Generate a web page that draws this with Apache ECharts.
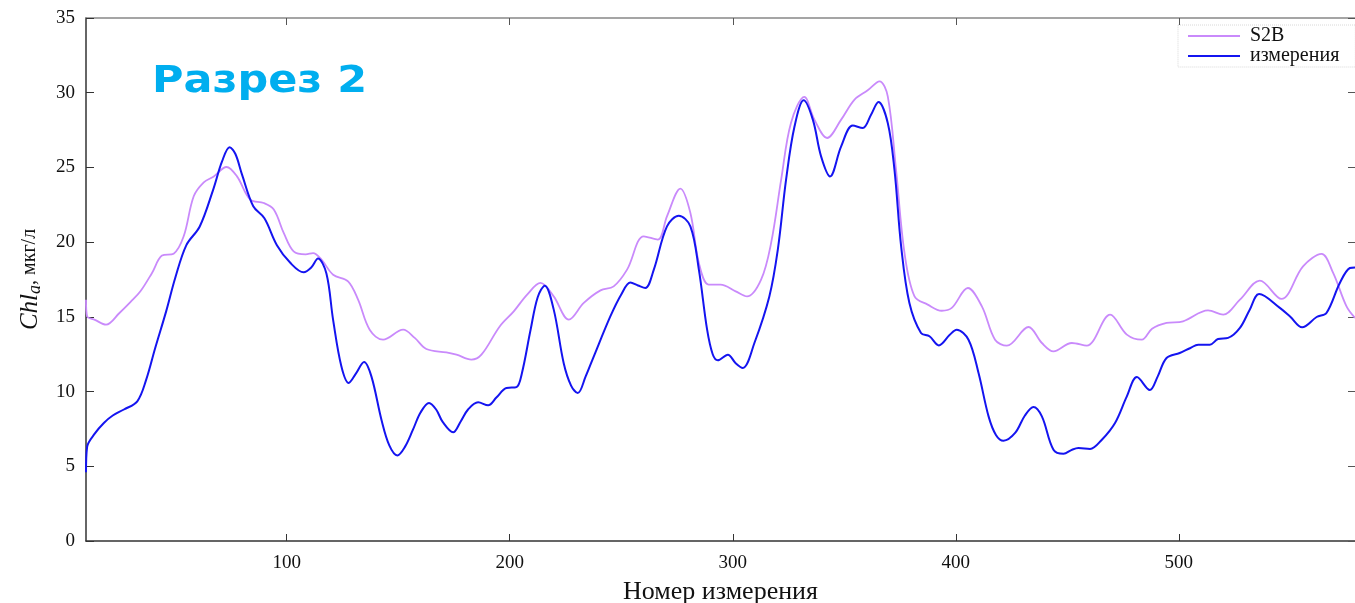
<!DOCTYPE html>
<html>
<head>
<meta charset="utf-8">
<script src="https://cdn.jsdelivr.net/npm/echarts@6/dist/echarts.min.js"></script>
<style>
html,body{margin:0;padding:0;background:#fff;}
#chart{width:1355px;height:603px;}
</style>
</head>
<body>
<div id="chart"></div>
<script>
// ---- Data ----
const seriesNames = ['S2B', 'измерения'];
const xTicks = [100, 200, 300, 400, 500];
const yTicks = [0, 5, 10, 15, 20, 25, 30, 35];

const s2bX = [10, 10.5, 14, 19, 25, 30, 34.4, 39.6, 44.1, 49.3, 53.8, 58.3, 62.8, 67.3, 73, 77.7, 83.7, 89.7, 94.2, 98.7,
  103.1, 108.5, 111.8, 115.6, 120.8, 127.5, 132, 137.2, 143.2, 152.2, 157.4, 162.6, 171.6, 176.1, 182.8, 187.3, 195.5,
  201.8, 207.8, 213.8, 219.7, 226.5, 233.2, 240.7, 246.6, 252.6, 260.1, 266.4, 270.5, 276.5, 281, 284.8, 289.2, 294.5,
  301.3, 306.4, 312.7, 317.2, 321.7, 326.1, 332.1, 336.6, 342.3, 348.6, 354.6, 360.5, 365.8, 369.5, 373.2, 377, 381.5,
  387.4, 393.7, 398.2, 405.4, 411.7, 417.6, 422.9, 432.6, 438.6, 443.8, 452, 458.7, 469.2, 476.7, 483.4, 488, 494.5,
  501.9, 513.1, 519.9, 527.4, 536.3, 546, 555.7, 564, 569.2, 575.2, 579];
const s2bY = [16.15, 15.03, 14.8, 14.48, 15.26, 16.0, 16.71, 17.94, 19.1, 19.23, 20.39, 23.07, 24.0, 24.4, 25.03, 24.4, 22.84, 22.62, 22.18, 20.6,
  19.38, 19.18, 19.27, 18.83, 17.82, 17.38, 16.15, 14.14, 13.47, 14.14, 13.59, 12.85, 12.62, 12.47, 12.14, 12.47, 14.36,
  15.37, 16.49, 17.27, 16.37, 14.81, 15.93, 16.77, 17.04, 18.16, 20.39, 20.17, 21.73, 23.58, 21.95, 18.61, 17.16, 17.16,
  16.71, 16.37, 17.49, 19.95, 24.18, 27.98, 29.72, 28.2, 26.97, 28.2, 29.54, 30.16, 30.76, 29.76, 24.85, 19.28, 16.37,
  15.82, 15.41, 15.6, 16.93, 15.7, 13.47, 13.07, 14.32, 13.25, 12.69, 13.25, 13.07, 15.15, 13.81, 13.47, 14.2, 14.59,
  14.7, 15.43, 15.15, 16.15, 17.42, 16.2, 18.38, 19.21, 17.94, 15.7, 14.93];

const measX = [10, 10.5, 14, 18, 22, 27, 33, 37, 41, 46, 50, 55, 61, 67, 71, 74.4, 77, 80, 85, 90, 95.6, 101.7, 107.6,
  111, 114, 117.8, 120.8, 124.5, 127.8, 131, 134.7, 138, 142.5, 146, 149.6, 153, 156.6, 160, 163.8, 167, 170, 174.6,
  178, 181.3, 185.8, 190.3, 194, 198.5, 203, 205.4, 209.3, 212.5, 215.7, 219.7, 224.2, 227.5, 230.5, 234, 237.7, 245.1,
  250, 254.1, 257.5, 260.8, 264.6, 270.5, 275.8, 281, 284.8, 288.5, 291, 293.3, 297.8, 301.3, 304.5, 309.7, 316.4,
  320.2, 323.9, 327.7, 331.8, 335.9, 339.6, 343.6, 348.6, 353.8, 358.3, 362, 365.3, 369.5, 372.5, 375.5, 379.2, 384.4,
  388.2, 392.4, 397.3, 400.4, 405.7, 410.2, 414.7, 418, 421.4, 426.6, 431, 434.8, 438.6, 443.8, 448.3, 452, 455, 460.2,
  465.5, 471.4, 476.7, 481.2, 487, 490.5, 494.5, 500.4, 505, 508.7, 513.9, 517.6, 522.1, 527.4, 531.8, 536, 545.3, 550,
  555.3, 561.8, 566.2, 572.2, 576.7, 579];
const measY = [4.6, 6.3, 7.2, 7.9, 8.4, 8.8, 9.35, 10.8, 12.9, 15.4, 17.6, 19.8, 21.05, 23.5, 25.4, 26.35, 25.9, 24.5, 22.4, 21.6, 19.8, 18.6, 17.98,
  18.3, 18.9, 17.9, 14.8, 11.7, 10.58, 11.2, 11.98, 11.0, 8.1, 6.4, 5.73, 6.3, 7.45, 8.6, 9.24, 8.8, 7.95, 7.27,
  8.0, 8.8, 9.28, 9.08, 9.6, 10.24, 10.3, 11.2, 14.1, 16.3, 17.09, 15.5, 11.9, 10.4, 9.9, 11.0, 12.36, 15.03,
  16.5, 17.3, 17.1, 16.93, 18.16, 21.06, 21.77, 21.06, 18.16, 14.14, 12.5, 12.09, 12.47, 11.9, 11.58, 13.25, 16.37,
  19.5, 24.18, 27.75, 29.49, 28.2, 25.74, 24.4, 26.41, 27.8, 27.64, 28.53, 29.38, 27.98, 24.85, 19.72, 15.93, 13.92,
  13.7, 13.09, 13.8, 14.14, 13.47, 11.24, 8.34, 7.1, 6.71, 7.23, 8.4, 8.97, 8.34, 6.11, 5.84, 6.1, 6.22, 6.16,
  6.78, 7.9, 9.68, 10.97, 10.1, 11.0, 12.25, 12.58, 12.9, 13.14, 13.14, 13.52, 13.59, 14.26, 15.48, 16.53, 15.6, 15.0,
  14.3, 14.99, 15.26, 17.27, 18.27, 18.31];

// ---- Chart ----
const zip = (xs, ys) => xs.map((x, i) => [x, ys[i]]);
const serif = '"Liberation Serif", "DejaVu Serif", serif';
const chart = echarts.init(document.getElementById('chart'));

const option = {
  animation: false,
  backgroundColor: '#ffffff',
  grid: { left: 86, right: 0, top: 18, bottom: 62, containLabel: false, outerBoundsMode: 'none' },
  graphic: [{
    type: 'text', x: 152, y: 63, scaleX: 1.13,
    style: { text: 'Разрез 2', fill: '#00aeef', font: 'bold 38px "DejaVu Sans", sans-serif' }
  }],
  legend: {
    data: seriesNames,
    orient: 'vertical',
    left: 1178, top: 25,
    itemWidth: 52, itemHeight: 14, itemGap: 0,
    padding: [1, 16, 1, 10],
    borderColor: '#d8d8d8', borderWidth: 1, borderType: 'dotted',
    textStyle: { fontFamily: serif, fontSize: 20, color: '#111', padding: [0, 0, 0, 5] },
    icon: 'path://M0,6 L52,6 L52,8 L0,8 Z'
  },
  xAxis: [{
    type: 'value', min: 10, max: 579, position: 'bottom',
    name: 'Номер измерения', nameLocation: 'middle', nameGap: 38,
    nameTextStyle: { fontFamily: serif, fontSize: 26, color: '#111' },
    axisLine: { show: true, onZero: false, lineStyle: { color: '#333', width: 1.5 } },
    axisTick: { show: true, inside: true, length: 7, customValues: xTicks, lineStyle: { color: '#333' } },
    axisLabel: { customValues: xTicks, fontFamily: serif, fontSize: 19, color: '#111', margin: 13 },
    splitLine: { show: false }
  }, {
    type: 'value', min: 10, max: 579, position: 'top',
    axisLine: { show: true, onZero: false, lineStyle: { color: '#888', width: 1.5 } },
    axisTick: { show: true, inside: true, length: 7, customValues: xTicks, lineStyle: { color: '#555' } },
    axisLabel: { show: false },
    splitLine: { show: false }
  }],
  yAxis: [{
    type: 'value', min: 0, max: 35, interval: 5, position: 'left',
    name: '{i|Chl}{s|a}{n|, мкг/л}', nameLocation: 'middle', nameGap: 42, nameRotate: 90,
    nameTextStyle: {
      rich: {
        i: { fontFamily: serif, fontStyle: 'italic', fontSize: 25, color: '#111' },
        s: { fontFamily: serif, fontStyle: 'italic', fontSize: 18, color: '#111', verticalAlign: 'bottom', padding: [10, 0, 0, 0] },
        n: { fontFamily: serif, fontSize: 20, color: '#111' }
      }
    },
    axisLine: { show: true, onZero: false, lineStyle: { color: '#333', width: 1.5 } },
    axisTick: { show: true, inside: true, length: 8, lineStyle: { color: '#333' } },
    axisLabel: { fontFamily: serif, fontSize: 19, color: '#111', margin: 11 },
    splitLine: { show: false }
  }, {
    type: 'value', min: 0, max: 35, interval: 5, position: 'right',
    axisLine: { show: false, onZero: false },
    axisTick: { show: true, inside: true, length: 7, lineStyle: { color: '#555' } },
    axisLabel: { show: false },
    splitLine: { show: false }
  }],
  series: [{
    name: seriesNames[0], type: 'line', smooth: 0.35, symbol: 'none',
    xAxisIndex: 0, yAxisIndex: 0,
    lineStyle: { color: '#c98afb', width: 1.8 },
    itemStyle: { color: '#c98afb' },
    data: zip(s2bX, s2bY), z: 2
  }, {
    name: seriesNames[1], type: 'line', smooth: 0.35, symbol: 'none',
    xAxisIndex: 0, yAxisIndex: 0,
    lineStyle: { color: '#1414f0', width: 2 },
    itemStyle: { color: '#1414f0' },
    data: zip(measX, measY), z: 3
  }]
};
chart.setOption(option);
</script>
</body>
</html>
